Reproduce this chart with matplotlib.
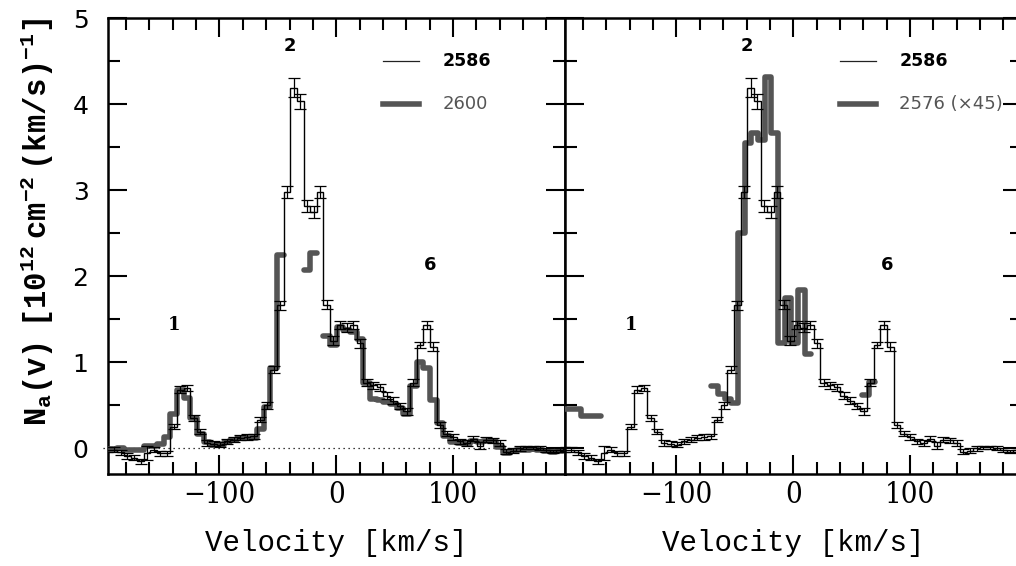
import matplotlib
matplotlib.use("Agg")
import matplotlib.pyplot as plt
import numpy as np
from matplotlib.ticker import MultipleLocator

# bin half width (km/s)
half = 2.85

# === FeII 2586: thin histogram with errors (same in both panels) ===
v_2586 = [-196.15, -190.45, -184.75, -179.05, -173.35, -167.65, -161.95, -156.25,
          -150.55, -144.85, -139.15, -133.45, -127.75, -122.05, -116.35, -110.65,
          -104.95, -99.25, -93.55, -87.85, -82.15, -76.45, -70.75, -65.05, -59.35,
          -53.65, -47.95, -42.25, -36.55, -30.85, -25.15, -19.45, -13.75, -8.05,
          -2.35, 3.35, 9.05, 14.75, 20.45, 26.15, 31.85, 37.55, 43.25, 48.95, 54.65,
          60.35, 66.05, 71.75, 77.45, 83.15, 88.85, 94.55, 100.25, 105.95, 111.65,
          117.35, 123.05, 128.75, 134.45, 140.15, 145.85, 151.55, 157.25, 162.95,
          168.65, 174.35, 180.05, 185.75, 191.45, 197.15]
n_2586 = [-0.02, -0.02, -0.05, -0.09, -0.11, -0.15, -0.06, -0.02,
          -0.06, -0.06, 0.25, 0.68, 0.70, 0.35, 0.19, 0.06,
          0.05, 0.04, 0.08, 0.10, 0.12, 0.13, 0.14, 0.33, 0.50,
          0.91, 1.66, 2.98, 4.19, 4.03, 2.81, 2.75, 2.98, 1.67,
          1.25, 1.43, 1.40, 1.43, 1.22, 0.76, 0.73, 0.71, 0.61, 0.55, 0.49,
          0.43, 0.76, 1.20, 1.43, 1.18, 0.27, 0.17, 0.13, 0.08, 0.06,
          0.11, 0.03, 0.10, 0.09, 0.06, -0.04, -0.03, 0.00, 0.01,
          0.01, 0.00, -0.02, -0.04, -0.02, -0.01]
e_2586 = [0.03, 0.03, 0.03, 0.03, 0.03, 0.03, 0.08, 0.03,
          0.03, 0.03, 0.03, 0.04, 0.04, 0.03, 0.03, 0.03,
          0.03, 0.03, 0.03, 0.03, 0.03, 0.03, 0.03, 0.03, 0.04,
          0.04, 0.05, 0.07, 0.11, 0.09, 0.07, 0.07, 0.07, 0.05,
          0.05, 0.05, 0.05, 0.05, 0.05, 0.04, 0.04, 0.04, 0.04, 0.04, 0.04,
          0.04, 0.04, 0.04, 0.05, 0.05, 0.03, 0.03, 0.03, 0.03, 0.03,
          0.03, 0.04, 0.03, 0.03, 0.03, 0.03, 0.03, 0.03, 0.02,
          0.02, 0.02, 0.02, 0.02, 0.02, 0.02]

# === FeII 2600 (left panel), saturated bins left out ===
v_2600_a = v_2586[:27]
n_2600_a = [-0.01, -0.01, 0.00, -0.02, -0.02, -0.02, 0.02, 0.02,
            0.05, 0.13, 0.40, 0.68, 0.58, 0.35, 0.17, 0.07,
            0.04, 0.04, 0.07, 0.10, 0.12, 0.12, 0.12, 0.22, 0.48,
            0.93, 2.25]
v_2600_b = [-25.15, -19.45]
n_2600_b = [2.07, 2.27]
v_2600_c = v_2586[33:]
n_2600_c = [1.30, 1.20, 1.41, 1.37, 1.35, 1.27, 0.76, 0.57, 0.56, 0.54, 0.51,
            0.47, 0.40, 0.72, 1.00, 0.93, 0.56, 0.29, 0.14, 0.07, 0.06,
            0.05, 0.08, 0.07, 0.08, 0.08, 0.01, -0.06, -0.03, -0.02,
            -0.02, -0.01, -0.02, -0.03, -0.04, -0.03, -0.02]

# === MnII 2576 x45 (right panel), three pieces ===
v_2576_a = [-196.15, -190.45, -184.75, -179.05, -173.35, -167.65]
n_2576_a = [0.46, 0.46, 0.46, 0.37, 0.37, 0.37]
v_2576_b = [-67.25, -61.55, -55.85, -50.15, -44.45, -38.75, -33.05, -27.35,
            -21.65, -15.95, -10.25, -4.55, 1.15, 6.85, 12.55]
n_2576_b = [0.72, 0.63, 0.57, 0.52, 2.50, 3.55, 3.66, 3.58,
            4.32, 3.66, 1.22, 1.74, 1.22, 1.84, 1.09]
v_2576_c = [61.85, 67.55]
n_2576_c = [0.62, 0.77]

comp_labels = ["1", "2", "6"]
comp_v = [-139.0, -40.0, 80.5]
comp_n = [1.43, 4.67, 2.13]
comp_fonts = ["DejaVu Serif", "DejaVu Sans", "DejaVu Sans"]

thick_col = "#555555"


def edges(centers):
    c = np.asarray(centers)
    return np.append(c - half, c[-1] + half)


def draw_thin(ax):
    ax.stairs(n_2586, edges(v_2586), baseline=None, color="black", lw=1.0, zorder=4)
    ax.errorbar(v_2586, n_2586, yerr=e_2586, fmt="none", ecolor="black",
                elinewidth=0.9, capsize=4.3, capthick=0.9, zorder=4)


def draw_thick(ax, v, n):
    ax.stairs(n, edges(v), baseline=None, color=thick_col, lw=4.0,
              joinstyle="round", capstyle="round", zorder=3)


def style_axes(ax):
    ax.set_xlim(-195.5, 196.0)
    ax.set_ylim(-0.3, 5.0)
    ax.xaxis.set_major_locator(MultipleLocator(100))
    ax.xaxis.set_minor_locator(MultipleLocator(20))
    ax.yaxis.set_major_locator(MultipleLocator(1))
    ax.yaxis.set_minor_locator(MultipleLocator(0.5))
    ax.tick_params(which="both", direction="in", top=True, right=True,
                   width=1.5, color="black")
    ax.tick_params(which="major", length=14)
    ax.tick_params(which="minor", length=8.5)
    ax.tick_params(axis="x", pad=5)
    ax.tick_params(axis="y", pad=14)
    for lab in ax.get_xticklabels():
        lab.set_fontfamily("DejaVu Serif")
        lab.set_fontstretch("condensed")
        lab.set_fontsize(21)
    for lab in ax.get_yticklabels():
        lab.set_fontfamily("DejaVu Sans")
        lab.set_fontsize(18)
    for s in ax.spines.values():
        s.set_linewidth(1.8)
    ax.text(0.5, -0.151, "Velocity [km/s]", transform=ax.transAxes,
            ha="center", va="center", fontsize=21, family="Liberation Mono")
    for lab, v, n, fam in zip(comp_labels, comp_v, comp_n, comp_fonts):
        ax.text(v, n, lab, ha="center", va="center", fontsize=13,
                fontweight="bold", family=fam)


def legend(ax, second):
    ax.plot([40.5, 70.5], [4.50, 4.50], color="#222222", lw=0.9)
    ax.plot([40.5, 70.5], [4.00, 4.00], color=thick_col, lw=4.0)
    ax.text(91, 4.50, "2586", ha="left", va="center", fontsize=12.5,
            fontweight="bold", color="black")
    ax.text(91, 4.00, second, ha="left", va="center", fontsize=13,
            color=thick_col)


plt.rcParams["mathtext.fontset"] = "custom"
plt.rcParams["mathtext.rm"] = "Liberation Mono"
plt.rcParams["mathtext.it"] = "Liberation Mono"
plt.rcParams["mathtext.bf"] = "Liberation Mono:bold"

fig = plt.figure(figsize=(10.16, 5.66), dpi=100)
ax1 = fig.add_axes([108 / 1016, 92 / 566, 457 / 1016, 456 / 566])
ax2 = fig.add_axes([565 / 1016, 92 / 566, 457 / 1016, 456 / 566])

# left: 2586 vs 2600
draw_thick(ax1, v_2600_a, n_2600_a)
draw_thick(ax1, v_2600_b, n_2600_b)
draw_thick(ax1, v_2600_c, n_2600_c)
draw_thin(ax1)
ax1.plot([-200, 195], [0, 0], ls=(0, (1, 3)), color="black", lw=0.9, clip_on=False)
style_axes(ax1)
legend(ax1, "2600")

# right: 2586 vs 2576 (x45)
draw_thick(ax2, v_2576_a, n_2576_a)
draw_thick(ax2, v_2576_b, n_2576_b)
draw_thick(ax2, v_2576_c, n_2576_c)
draw_thin(ax2)
style_axes(ax2)
ax2.tick_params(labelleft=False)
legend(ax2, "2576 (\u00d745)")

fig.text(37 / 1016, 1 - 222 / 566,
         r"$\mathbf{N_a(v)\ \ [10^{12}\ cm^{-2}\ (km/s)^{-1}]}$",
         rotation=90, ha="center", va="center", fontsize=22)

fig.savefig("out.png", dpi=100)
